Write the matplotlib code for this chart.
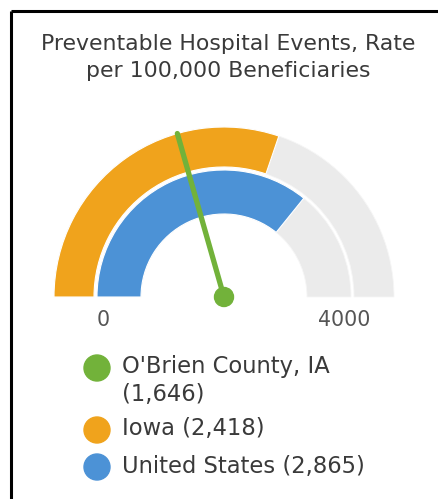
import numpy as np
import matplotlib
matplotlib.use("Agg")
import matplotlib.pyplot as plt
from matplotlib.patches import Wedge, Circle

# chart data
title = "Preventable Hospital Events, Rate\nper 100,000 Beneficiaries"
gauge_min, gauge_max = 0, 4000
series_names = ["O'Brien County, IA\n(1,646)", "Iowa (2,418)", "United States (2,865)"]
series_values = [1646, 2418, 2865]
series_colors = ["#72b23a", "#f0a31c", "#4c92d6"]

W, H = 439, 499


def to_angle(v):
    # 0 -> 180 deg (left), max -> 0 deg (right)
    return 180.0 - 180.0 * (v - gauge_min) / (gauge_max - gauge_min)


def main():
    fig = plt.figure(figsize=(W / 100, H / 100), dpi=100)
    ax = fig.add_axes([0, 0, 1, 1])
    ax.set_xlim(0, W)
    ax.set_ylim(0, H)
    ax.set_aspect("equal")
    ax.axis("off")

    # frame (left + top only)
    ax.plot([11, 11], [0, H - 11], color="black", lw=2.2, solid_capstyle="butt")
    ax.plot([11, W], [H - 11, H - 11], color="black", lw=2.2, solid_capstyle="butt")

    ax.text(228, H - 57.5, title, ha="center", va="center", fontsize=15.8,
            color="#3a3a3a", linespacing=1.4)

    cx, cy = 224, H - 297
    bands = [(170, 40), (127, 44)]  # outer radius, width  (orange band, blue band)

    # grey background bands
    for r, w in bands:
        ax.add_patch(Wedge((cx, cy), r, 0, 180, width=w, facecolor="#ebebeb",
                           edgecolor="#f6f6f6", lw=0.6))

    # iowa (outer) and us (inner)
    for (r, w), val, col in zip(bands, series_values[1:], series_colors[1:]):
        ax.add_patch(Wedge((cx, cy), r, to_angle(val), 180, width=w,
                           facecolor=col, edgecolor="white", lw=0.8))

    # county needle
    a = np.deg2rad(to_angle(series_values[0]))
    ax.plot([cx, cx + 170 * np.cos(a)], [cy, cy + 170 * np.sin(a)],
            color=series_colors[0], lw=3.8, solid_capstyle="round")
    ax.add_patch(Circle((cx, cy), 9.5, color=series_colors[0]))

    ax.text(cx - 121, cy - 23, f"{gauge_min}", ha="center", va="center",
            fontsize=14.8, color="#555555")
    ax.text(cx + 120, cy - 23, f"{gauge_max}", ha="center", va="center",
            fontsize=14.8, color="#555555")

    # legend
    leg_y = [H - 368, H - 430, H - 467]
    for name, col, y in zip(series_names, series_colors, leg_y):
        ax.add_patch(Circle((97, y), 13, color=col))
        lines = name.split("\n")
        ax.text(122, y + 1, lines[0], ha="left", va="center",
                fontsize=16.3, color="#3a3a3a")
        if len(lines) > 1:
            ax.text(122, y - 27, lines[1], ha="left", va="center",
                    fontsize=16.3, color="#3a3a3a")

    fig.savefig("out.png", dpi=100, facecolor="white")


if __name__ == "__main__":
    main()
